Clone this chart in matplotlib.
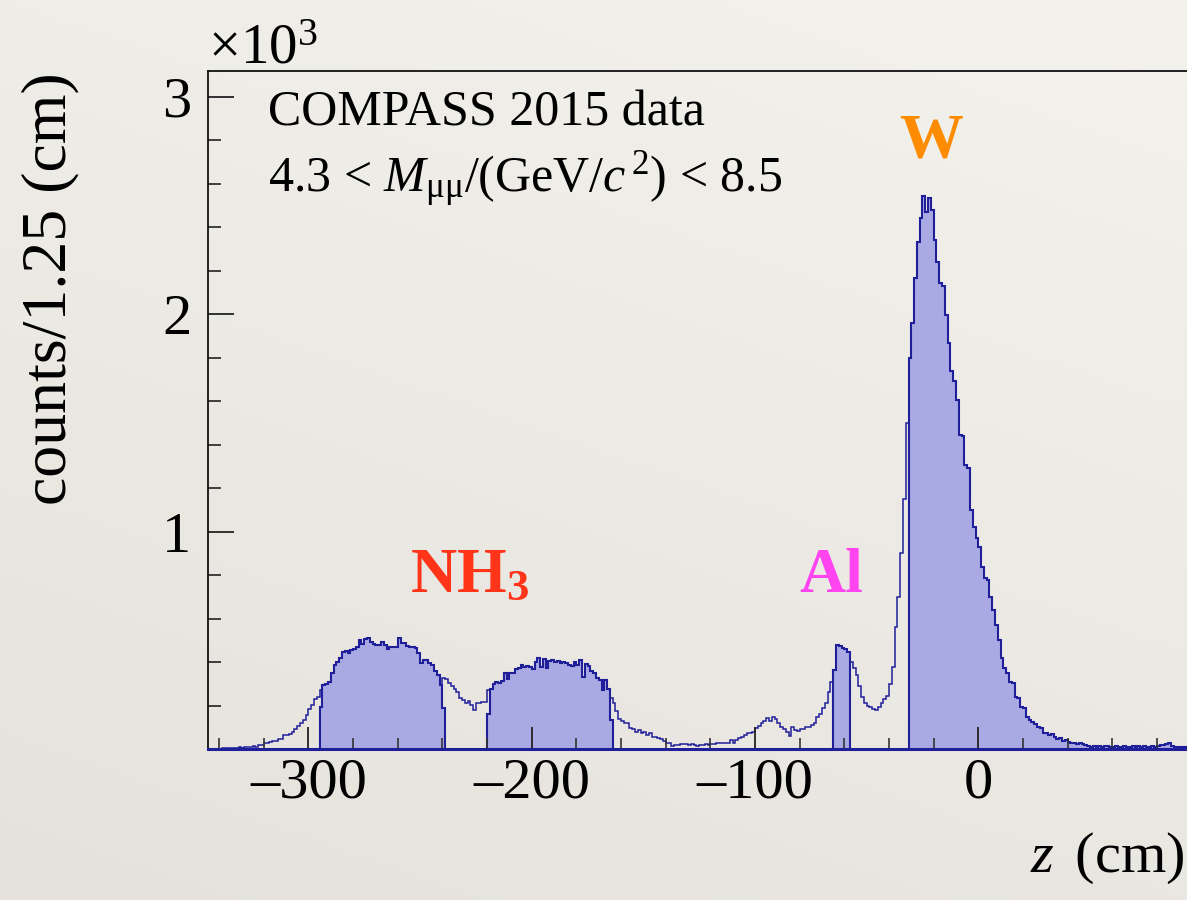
import numpy as np
import matplotlib.pyplot as plt

plt.rcParams['font.family'] = 'Liberation Serif'
plt.rcParams['mathtext.fontset'] = 'custom'
plt.rcParams['mathtext.rm'] = 'Liberation Serif'
plt.rcParams['mathtext.it'] = 'Liberation Serif:italic'
plt.rcParams['mathtext.bf'] = 'Liberation Serif:bold'

# binning of the vertex distribution (cm)
z_min = -345.0
bin_width = 1.25

# counts per 1.25 cm bin, split by target region along z
upstream_tail = [3, 3, 2, 3, 2, 4, 5, 4, 6, 5, 7, 8, 7, 9, 12, 11, 14, 12, 21, 19,
                 27, 29, 34, 36, 37, 46, 48, 64, 66, 72, 78, 92, 106, 118, 134, 158, 184, 205, 232, 240]
nh3_cell_1 = [272, 293, 300, 308, 350, 388, 402, 418, 445, 452, 440, 458, 460, 472, 500, 484, 505, 510, 492, 484,
              480, 478, 494, 480, 462, 468, 470, 472, 510, 488, 488, 476, 472, 470, 466, 440, 398, 410, 412, 395,
              386, 360, 342, 296, 326]
cell_gap = [322, 305, 290, 275, 262, 234, 226, 214, 222, 203, 180, 214, 214, 218, 216]
nh3_cell_2 = [272, 275, 300, 310, 305, 314, 349, 321, 349, 349, 367, 372, 387, 377, 383, 380, 367, 402, 418, 377,
              413, 372, 407, 410, 402, 407, 398, 402, 394, 387, 383, 402, 387, 410, 333, 392, 383, 361, 352, 326,
              318, 272, 318, 275, 236]
downstream_nh3 = [211, 177, 137, 131, 122, 119, 96, 92, 81, 88, 73, 81, 65, 73, 58, 54, 50, 45, 38, 27,
                  30, 15, 19, 19, 22, 24, 24, 19, 24, 19, 16, 19, 19, 22, 19, 22, 24, 27, 27, 30,
                  27, 27, 42, 30, 42, 50, 54, 65, 73, 76, 80, 96, 107, 119, 131, 142, 131, 150, 137, 119,
                  103, 91, 80, 61, 100, 88, 85, 91, 94, 100, 103, 112, 122, 146, 162, 188, 214, 264, 310]
al_window = [364, 479, 474, 466, 459, 448]
al_to_w = [402, 372, 340, 290, 240, 212, 200, 192, 183, 180, 192, 210, 230, 245, 300, 380, 560, 700, 900, 1150,
           1500]
w_absorber = [1800, 1958, 2166, 2334, 2441, 2544, 2472, 2536, 2480, 2342, 2242, 2143, 2128, 1998, 1867, 1737,
              1691, 1607, 1446, 1438, 1307, 1292, 1100, 1023, 969, 931, 839, 785, 778, 700, 640, 570, 500, 420,
              374, 350, 311, 306, 242, 234, 196, 188, 150, 134, 127, 116, 104, 96, 76, 73, 65, 70, 58, 45,
              50, 39, 42, 35, 27, 30, 24, 27, 24, 19, 15, 9, 15, 12, 15, 12, 15, 15, 9, 12, 15, 9,
              12, 15, 12, 12, 15, 12, 15, 12, 15, 12, 12, 15, 12, 15, 19, 19, 24, 27, 15, 12, 9, 9,
              10, 12, 9, 10, 11, 9, 10]

# first/last bin contents of the cuts that end inside a bin
cell_1_edge_counts = (193, 188)
cell_2_edge_counts = (162, 134)

segments = [upstream_tail, nh3_cell_1, cell_gap, nh3_cell_2, downstream_nh3, al_window, al_to_w, w_absorber]
counts = np.concatenate([np.array(s, dtype=float) for s in segments])
edges = z_min + bin_width * np.arange(len(counts) + 1)
starts = np.cumsum([0] + [len(s) for s in segments])

line_col = '#1f1f9a'
fill_col = '#a9a9e4'

fig = plt.figure(figsize=(11.87, 9.0), dpi=100)

# paper-like backdrop
bg = fig.add_axes([0, 0, 1, 1], zorder=-10)
yy, xx = np.mgrid[0:1:200j, 0:1:200j]
shade = 0.55 * yy + 0.25 * xx
top = np.array([244, 242, 237]) / 255.0
bot = np.array([229, 226, 220]) / 255.0
img = bot[None, None, :] + (top - bot)[None, None, :] * (shade / shade.max())[:, :, None]
bg.imshow(img, extent=[0, 1, 0, 1], origin='lower', aspect='auto')
bg.axis('off')

ax = fig.add_axes([0.1752, 0.1676, 0.8371, 0.7539])
ax.patch.set_alpha(0)


def draw_cut(i0, i1, edge_vals=None):
    vals = counts[i0:i1].copy()
    if edge_vals is not None:
        vals[0], vals[-1] = edge_vals
    ax.stairs(vals / 1000.0, edges[i0:i1 + 1], baseline=0, fill=True,
              facecolor=fill_col, edgecolor='none', zorder=1)
    ax.stairs(vals / 1000.0, edges[i0:i1 + 1], baseline=0, fill=False,
              color=line_col, lw=1.5, zorder=1.2)


draw_cut(starts[1], starts[2], cell_1_edge_counts)
draw_cut(starts[3], starts[4], cell_2_edge_counts)
draw_cut(starts[5], starts[6])
draw_cut(starts[7], starts[8])

ax.stairs(counts / 1000.0, edges, baseline=None, color=line_col, lw=1.1, zorder=1.3)

ax.set_xlim(-345, 100)
ax.set_ylim(0, 3.12)

xticks = [-300, -200, -100, 0]
xtick_labels = ['\u2013300', '\u2013200', '\u2013100', '0']
ax.set_xticks(xticks)
ax.set_xticklabels(xtick_labels)
ax.set_xticks(np.arange(-340, 101, 20), minor=True)
ax.set_yticks([0, 1, 2, 3])
ax.set_yticklabels(['', '1', '2', '3'])
ax.set_yticks(np.arange(0, 3.1, 0.2), minor=True)

ax.tick_params(axis='x', which='major', direction='in', length=16, width=1.3, colors='#222222',
               labelsize=42, pad=6, labelcolor='black')
ax.tick_params(axis='x', which='minor', direction='in', length=8, width=1.2, colors='#333333')
ax.tick_params(axis='y', which='major', direction='in', length=19, width=1.3, colors='#222222',
               labelsize=42, pad=12, labelcolor='black')
ax.tick_params(axis='y', which='minor', direction='in', length=9.5, width=1.2, colors='#222222')

for side in ['left', 'top', 'right']:
    ax.spines[side].set_linewidth(1.3)
    ax.spines[side].set_color('#111111')
ax.spines['bottom'].set_linewidth(2.2)
ax.spines['bottom'].set_color(line_col)

fig.text(50 / 1187, 1 - 72 / 900, 'counts/1.25 (cm)', fontsize=46, rotation=90,
         ha='center', va='top')
fig.text(1185 / 1187, 1 - 872 / 900, r'$z\,$ (cm)', fontsize=42, ha='right', va='baseline')
fig.text(208 / 1187, 1 - 63 / 900, r'$\times$10$^{3}$', fontsize=41, ha='left', va='baseline')

ax.text(-318, 2.87, 'COMPASS 2015 data', fontsize=36, ha='left', va='baseline')
ax.text(-318, 2.56, r'4.3 < $M_{\mathrm{\mu\mu}}$/(GeV/$c^{\,2}$) < 8.5', fontsize=36, ha='left', va='baseline')

ax.text(-254.5, 0.723, r'NH$_{\mathbf{3}}$', fontsize=46, fontweight='bold', color='#ff3418',
        ha='left', va='baseline')
ax.text(-80, 0.723, 'Al', fontsize=46, fontweight='bold', color='#ff44f0', ha='left', va='baseline')
ax.text(-35.5, 2.72, 'W', fontsize=46, fontweight='bold', color='#ff8c00', ha='left', va='baseline')

fig.savefig('out.png', dpi=100)
